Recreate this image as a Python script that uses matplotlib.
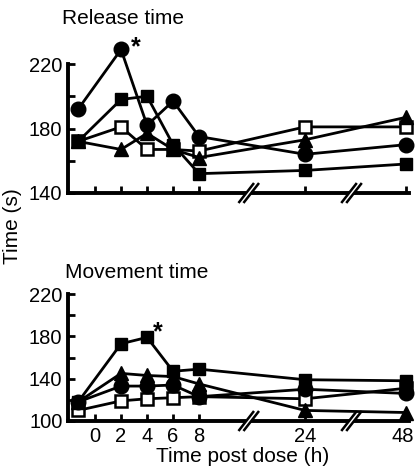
import numpy as np
import matplotlib
matplotlib.use("Agg")
import matplotlib.pyplot as plt
import matplotlib.transforms as mtransforms
from matplotlib.ticker import FixedLocator, NullFormatter

plt.rcParams['font.family'] = ['Liberation Sans', 'DejaVu Sans']

# ---- data ----
hours = [-1.3, 2, 4, 6, 8, 24, 48]          # first point = pre-dose baseline
xtick_hours = [0, 2, 4, 6, 8, 24, 48]
xtick_labels = ["0", "2", "4", "6", "8", "24", "48"]

release_circle = [192, 229, 182, 197, 175, 164, 170]
release_fsquare = [172, 198, 200, 170, 152, 154, 158]
release_osquare = [172, 181, 167, 167, 166, 181, 181]
release_triangle = [172, 167, 177, 167, 162, 173, 187]

move_circle = [118, 133, 133, 134, 123, 130, 126]
move_fsquare = [118, 173, 179, 147, 149, 139, 138]
move_osquare = [110, 119, 121, 122, 123, 121, 131]
move_triangle = [118, 145, 143, 142, 135, 110, 108]

break_hours = [15.5, 35.0]

# ---- broken (compressed) time scale ----
_h_knots = np.array([-10.0, 8.0, 24.0, 60.0])
_p_knots = np.array([-10.0, 8.0, 16.15, 16.15 + 36 * 7.8 / 24])


def fwd(h):
    return np.interp(h, _h_knots, _p_knots)


def inv(p):
    return np.interp(p, _p_knots, _h_knots)


W, H = 416, 471
fig = plt.figure(figsize=(W / 100, H / 100), dpi=100)
fig.patch.set_facecolor('white')

ax1 = fig.add_axes([68 / W, 1 - 193 / H, 341 / W, 129 / H])
ax2 = fig.add_axes([68 / W, 1 - 421 / H, 341 / W, 127 / H])

FS = 15
TFS = 14.5
LW = 2.0


def draw_series(ax, circ, fsq, osq, tri):
    kw = dict(color='black', lw=LW, clip_on=False, zorder=3)
    ax.plot(hours, osq, marker='s', ms=8, mfc='white', mec='black', mew=1.8, **kw)
    ax.plot(hours, tri, marker='^', ms=9.5, mfc='black', mec='black', **kw)
    ax.plot(hours, circ, marker='o', ms=10.5, mfc='black', mec='black', **kw)
    ax.plot(hours, fsq, marker='s', ms=9, mfc='black', mec='black', **kw)


def style_axis(ax, ylim, majors, minors, show_xlabels):
    ax.set_xscale('function', functions=(fwd, inv))
    ax.set_xlim(-2.08, 48.6)
    ax.set_ylim(*ylim)
    for s in ['top', 'right']:
        ax.spines[s].set_visible(False)
    for s in ['left', 'bottom']:
        ax.spines[s].set_linewidth(2.8)
    ax.xaxis.set_major_locator(FixedLocator(xtick_hours))
    ax.xaxis.set_minor_locator(FixedLocator([]))
    if show_xlabels:
        ax.set_xticklabels(xtick_labels)
    else:
        ax.xaxis.set_major_formatter(NullFormatter())
    ax.yaxis.set_major_locator(FixedLocator(majors))
    ax.yaxis.set_minor_locator(FixedLocator(minors))
    ax.tick_params(axis='both', which='both', direction='in', length=5, width=2.0,
                   labelsize=TFS, pad=4)
    # break marks on the time axis
    for bh in break_hours:
        xa = ax.transAxes.inverted().transform(ax.transData.transform((bh, ylim[0])))[0]
        bbox = ax.get_position()
        axw = bbox.width * W
        axh = bbox.height * H
        dx = 7 / axw
        dy = 9 / axh
        gap = 2.5 / axw
        ax.plot([xa - gap, xa + gap], [0, 0], transform=ax.transAxes, color='white',
                lw=4, clip_on=False, zorder=5, solid_capstyle='butt')
        for off in (-gap, gap):
            ax.plot([xa + off - dx, xa + off + dx], [-dy, dy], transform=ax.transAxes,
                    color='black', lw=1.8, clip_on=False, zorder=6)


style_axis(ax1, (140, 220), [140, 180, 220], [160, 200], False)
style_axis(ax2, (100, 220), [100, 140, 180, 220], [120, 160, 200], True)

# nudge the last time label so it stays inside the figure
last_lbl = ax2.get_xticklabels()[-1]
last_lbl.set_transform(last_lbl.get_transform()
                       + mtransforms.ScaledTranslation(-4 / 100, 0, fig.dpi_scale_trans))

draw_series(ax1, release_circle, release_fsquare, release_osquare, release_triangle)
draw_series(ax2, move_circle, move_fsquare, move_osquare, move_triangle)

fig.text(62 / W, 1 - 18 / H, "Release time", fontsize=FS, ha='left', va='center')
fig.text(65 / W, 1 - 273 / H, "Movement time", fontsize=FS, ha='left', va='center')
fig.text(136 / W, 1 - 47 / H, "*", fontsize=FS + 3, fontweight='bold', ha='center', va='center')
fig.text(158 / W, 1 - 332 / H, "*", fontsize=FS + 3, fontweight='bold', ha='center', va='center')
fig.text(12 / W, 1 - 226 / H, "Time (s)", fontsize=FS, rotation=90, ha='center', va='center')
fig.text(243 / W, 1 - 456 / H, "Time post dose (h)", fontsize=FS, ha='center', va='center')

fig.savefig("out.png", dpi=100, facecolor='white')
